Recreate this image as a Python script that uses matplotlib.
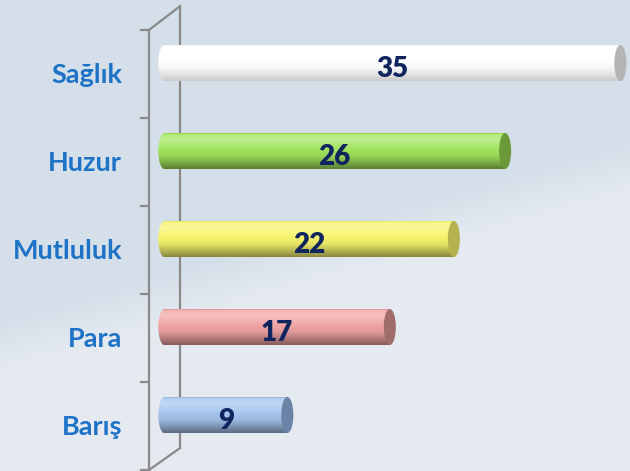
import numpy as np
import matplotlib.pyplot as plt
from matplotlib.path import Path
from matplotlib.colors import to_rgb
import matplotlib.patches as mpatches

# data
categories = ["Sağlık", "Huzur", "Mutluluk", "Para", "Barış"]
values = [35, 26, 22, 17, 9]
bar_colors = ["#ffffff", "#a2e65e", "#f7f56e", "#f2a5a5", "#a6c6ee"]
cap_colors = ["#b4b4b4", "#6c9a3a", "#b3b24f", "#a06c6c", "#6a83a6"]

label_color = "#1f73c6"
value_color = "#10245e"
axis_color = "#8a8a8a"

fig = plt.figure(figsize=(6.3, 4.71), dpi=100)
ax = fig.add_axes([0, 0, 1, 1])
ax.set_xlim(-13.43, 35.75)
ax.set_ylim(4.511, -0.841)
ax.axis("off")

# background: pale sky with a soft snow band towards bottom right
gx, gy = np.meshgrid(np.linspace(0, 1, 315), np.linspace(0, 1, 236))
base = np.array(to_rgb("#d5dfe9"))
snow = np.array(to_rgb("#e9edf2"))
edge = 0.68 - 0.38 * gx  # diagonal boundary of the snow band (fraction from top)
w = np.clip((gy - edge) / 0.12, 0, 1) * 0.85
w = np.maximum(w, np.clip((gy - 0.93) / 0.06, 0, 1) * 0.7)
bg = base[None, None, :] * (1 - w[..., None]) + snow[None, None, :] * w[..., None]
ax.imshow(bg, extent=[-13.43, 35.75, 4.511, -0.841], aspect="auto", zorder=0,
          interpolation="bilinear")

# 3D axis frame
front_x = -1.80
dx, dy = 2.42, -0.27
ax.plot([front_x, front_x], [-0.5, 4.51], color=axis_color, lw=1.6, zorder=1)
ax.plot([front_x + dx, front_x + dx], [-0.5 + dy, 4.5 + dy + 0.02], color=axis_color, lw=1.6, zorder=1)
ax.plot([front_x, front_x + dx], [-0.5, -0.5 + dy], color=axis_color, lw=1.6, zorder=1)
ax.plot([front_x, front_x + dx], [4.5, 4.5 + dy + 0.02], color=axis_color, lw=1.6, zorder=1)
for t in np.arange(-0.5, 4.6, 1.0):
    ax.plot([front_x - 0.62, front_x], [t, t], color=axis_color, lw=1.6, zorder=1)

# cylinder bars
shade_t = np.array([0.0, 0.06, 0.2, 0.45, 0.65, 0.85, 1.0])
shade_f = np.array([0.80, 1.06, 1.10, 1.0, 0.93, 0.72, 0.55])
bar_h = 0.41
bar_shift = -0.125
start = -0.6
cap_w = 0.47

for i, (v, c, cc) in enumerate(zip(values, bar_colors, cap_colors)):
    yc = i + bar_shift
    top, bot = yc - bar_h / 2, yc + bar_h / 2
    rgb = np.array(to_rgb(c))
    t = np.linspace(0, 1, 80)
    f = np.interp(t, shade_t, shade_f)
    col = np.where(f[:, None] > 1, rgb + (1 - rgb) * (f[:, None] - 1) * 3, rgb * f[:, None])
    if c == "#ffffff":
        col = np.where(f[:, None] > 1, rgb, rgb * (0.55 + 0.45 * f[:, None]))
    col = np.clip(col, 0, 1)
    img = np.repeat(col[:, None, :], 2, axis=1)
    im = ax.imshow(img, extent=[start - cap_w, v, bot, top], aspect="auto", zorder=3,
                   interpolation="bilinear")
    ang = np.linspace(np.pi / 2, 3 * np.pi / 2, 30)
    verts = [(start + cap_w * np.cos(a), yc - bar_h / 2 * np.sin(a)) for a in ang]
    verts += [(v, bot), (v, top), verts[0]]
    clip = mpatches.PathPatch(Path(verts, closed=True), transform=ax.transData,
                              facecolor="none", edgecolor="none")
    ax.add_patch(clip)
    im.set_clip_path(clip)
    ax.add_patch(mpatches.Ellipse((v, yc), 2 * cap_w, bar_h, facecolor=cc,
                                  edgecolor="none", zorder=4))
    ax.text((start - cap_w + v + cap_w) / 2, yc + 0.07, str(v), ha="center", va="center",
            fontsize=20, fontweight="heavy", family="Lato", color=value_color, zorder=5)

for i, name in enumerate(categories):
    ax.text(-3.9, i + 0.01, name, ha="right", va="center", fontsize=19.5,
            fontweight="bold", family="Lato", color=label_color, zorder=5)

fig.savefig("out.png", dpi=100)
